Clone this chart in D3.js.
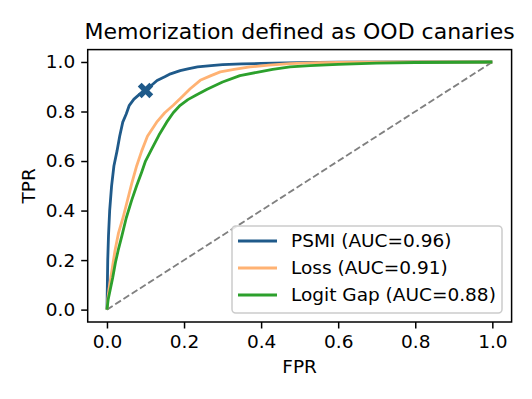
<!DOCTYPE html>
<html>
<head>
<meta charset="utf-8">
<script src="https://cdn.jsdelivr.net/npm/d3@7"></script>
<style>
  body { margin: 0; background: #fff; }
  svg { display: block; font-family: 'DejaVu Sans', sans-serif; }
</style>
</head>
<body>
<script>
const SVG_DIM = {W: 532, H: 399};
const AX = {L: 87.7, R: 511.6, T: 49.6, B: 322};

// data
const TITLE = 'Memorization defined as OOD canaries';
const X_TICKS = [0, 0.2, 0.4, 0.6, 0.8, 1.0];
const Y_TICKS = [0, 0.2, 0.4, 0.6, 0.8, 1.0];

const psmiFpr = [0, 0.001, 0.002, 0.004, 0.007, 0.012, 0.018, 0.026, 0.033, 0.041, 0.05, 0.058, 0.07, 0.085, 0.1, 0.115, 0.13, 0.15, 0.165, 0.19, 0.21, 0.235, 0.27, 0.3, 0.35, 0.4, 0.5, 0.6, 0.8, 1.0];
const psmiTpr = [0, 0.1, 0.2, 0.3, 0.4, 0.5, 0.58, 0.64, 0.7, 0.757, 0.79, 0.825, 0.85, 0.87, 0.885, 0.905, 0.925, 0.94, 0.952, 0.965, 0.972, 0.98, 0.985, 0.989, 0.992, 0.994, 0.997, 0.999, 1.0, 1.0];

const lossFpr = [0, 0.002, 0.005, 0.01, 0.015, 0.021, 0.03, 0.042, 0.053, 0.064, 0.077, 0.09, 0.105, 0.129, 0.15, 0.172, 0.195, 0.216, 0.242, 0.27, 0.294, 0.33, 0.371, 0.42, 0.475, 0.55, 0.65, 0.8, 1.0];
const lossTpr = [0, 0.04, 0.08, 0.13, 0.18, 0.24, 0.31, 0.373, 0.44, 0.508, 0.58, 0.64, 0.7, 0.757, 0.795, 0.825, 0.86, 0.892, 0.926, 0.945, 0.96, 0.97, 0.98, 0.987, 0.993, 0.997, 0.999, 1.0, 1.0];

const gapFpr = [0, 0.003, 0.008, 0.015, 0.022, 0.029, 0.039, 0.05, 0.064, 0.077, 0.09, 0.1, 0.116, 0.135, 0.155, 0.172, 0.19, 0.21, 0.233, 0.26, 0.3, 0.345, 0.389, 0.43, 0.475, 0.527, 0.6, 0.7, 0.8, 1.0];
const gapTpr = [0, 0.04, 0.077, 0.13, 0.19, 0.239, 0.3, 0.37, 0.441, 0.5, 0.555, 0.6, 0.648, 0.705, 0.757, 0.795, 0.825, 0.848, 0.868, 0.89, 0.919, 0.945, 0.958, 0.97, 0.98, 0.985, 0.99, 0.995, 0.998, 1.0];

const SERIES = [
  {name: 'PSMI (AUC=0.96)', fpr: psmiFpr, tpr: psmiTpr, color: '#1f5a8a'},
  {name: 'Loss (AUC=0.91)', fpr: lossFpr, tpr: lossTpr, color: '#ffb273'},
  {name: 'Logit Gap (AUC=0.88)', fpr: gapFpr, tpr: gapTpr, color: '#2ca02c'}
];
const MARKER = {fpr: 0.1, tpr: 0.885};

const svg = d3.select('body')
    .append('svg')
    .attr('width', SVG_DIM.W)
    .attr('height', SVG_DIM.H);

const x = d3.scaleLinear().domain([-0.05, 1.05]).range([AX.L, AX.R]);
const y = d3.scaleLinear().domain([-0.05, 1.05]).range([AX.B, AX.T]);

// axes
svg.append('g')
    .attr('transform', `translate(0,${AX.B})`)
    .call(d3.axisBottom(x).tickValues(X_TICKS).tickFormat(d3.format('.1f')).tickSize(6.5).tickPadding(6))
    .call(g => g.select('.domain').remove())
    .call(g => g.selectAll('line').attr('stroke-width', 1.5))
    .call(g => g.selectAll('text').attr('font-size', 18.5).attr('font-family', 'DejaVu Sans').attr('fill', '#000'));

svg.append('g')
    .attr('transform', `translate(${AX.L},0)`)
    .call(d3.axisLeft(y).tickValues(Y_TICKS).tickFormat(d3.format('.1f')).tickSize(6.5).tickPadding(6))
    .call(g => g.select('.domain').remove())
    .call(g => g.selectAll('line').attr('stroke-width', 1.5))
    .call(g => g.selectAll('text').attr('font-size', 18.5).attr('font-family', 'DejaVu Sans').attr('fill', '#000'));

// diagonal
svg.append('line')
    .attr('x1', x(0)).attr('y1', y(0))
    .attr('x2', x(1)).attr('y2', y(1))
    .attr('stroke', '#808080')
    .attr('stroke-width', 1.85)
    .attr('stroke-dasharray', '6.8,3');

// curves
const line = d3.line()
    .x(d => x(d[0]))
    .y(d => y(d[1]));

SERIES.forEach((s, i) => {
  svg.append('path')
      .datum(s.fpr.map((f, k) => [f, s.tpr[k]]))
      .attr('d', line)
      .attr('fill', 'none')
      .attr('stroke', s.color)
      .attr('stroke-width', 2.8)
      .attr('stroke-linejoin', 'round');
  if (i === 0) {
    svg.append('path')
        .attr('d', d3.symbol(d3.symbolCross, 150)())
        .attr('transform', `translate(${x(MARKER.fpr)},${y(MARKER.tpr)}) rotate(45)`)
        .attr('fill', s.color);
  }
});

// frame
svg.append('rect')
    .attr('x', AX.L).attr('y', AX.T)
    .attr('width', AX.R - AX.L).attr('height', AX.B - AX.T)
    .attr('fill', 'none')
    .attr('stroke', '#000')
    .attr('stroke-width', 1.5);

// title + labels
svg.append('text')
    .attr('x', (AX.L + AX.R) / 2).attr('y', 38.5)
    .attr('text-anchor', 'middle')
    .attr('font-size', 22)
    .text(TITLE);

svg.append('text')
    .attr('x', (AX.L + AX.R) / 2).attr('y', 373)
    .attr('text-anchor', 'middle')
    .attr('font-size', 18.5)
    .text('FPR');

svg.append('text')
    .attr('transform', `translate(35,${(AX.T + AX.B) / 2}) rotate(-90)`)
    .attr('text-anchor', 'middle')
    .attr('font-size', 18.5)
    .text('TPR');

// legend
const legend = svg.append('g').attr('transform', 'translate(232,226)');

legend.append('rect')
    .attr('width', 270).attr('height', 87)
    .attr('rx', 3.7)
    .attr('fill', '#fff').attr('fill-opacity', 0.8)
    .attr('stroke', '#cccccc')
    .attr('stroke-width', 1.5);

const item = legend.selectAll('.legend-item')
    .data(SERIES)
    .enter()
    .append('g')
    .attr('class', 'legend-item')
    .attr('transform', (d, i) => `translate(0,${15 + i * 27})`);

item.append('line')
    .attr('x1', 6).attr('x2', 45)
    .attr('stroke', d => d.color)
    .attr('stroke-width', 2.8);

item.append('text')
    .attr('x', 59)
    .attr('dy', '.35em')
    .attr('font-size', 18.5)
    .text(d => d.name);
</script>
</body>
</html>
